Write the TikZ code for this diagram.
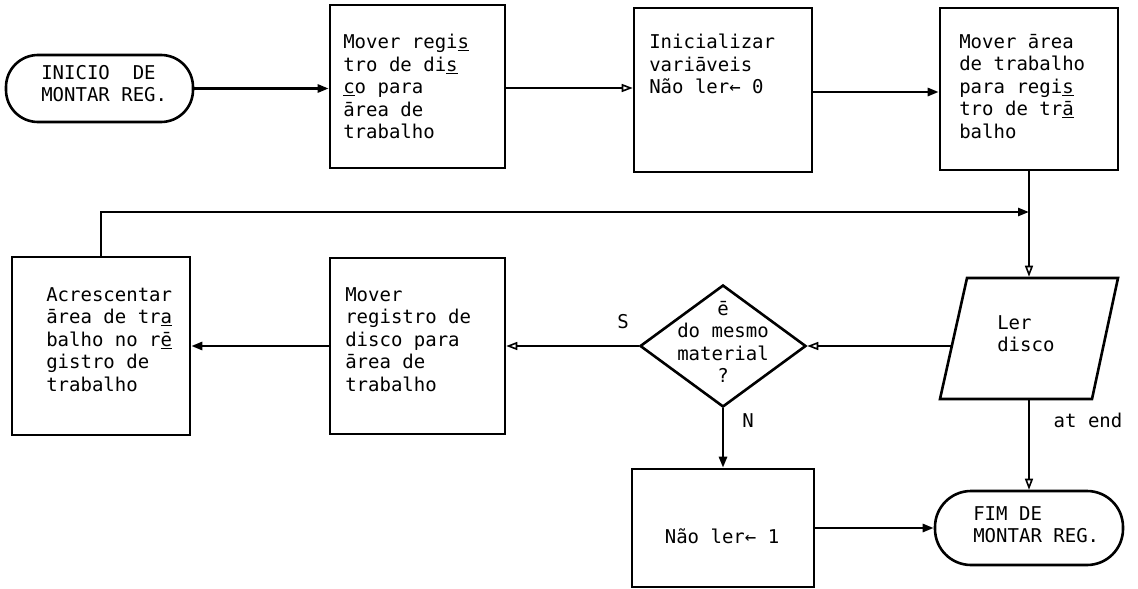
\documentclass[tikz,border=0pt]{standalone}
\usepackage{fontspec}
\newfontfamily\tw{DejaVu Sans Mono}
\usetikzlibrary{shapes.geometric,arrows.meta}
\begin{document}
\begin{tikzpicture}[x=1pt,y=-1pt,line width=2.6pt,
  box/.style={draw,rectangle,inner sep=0pt},
  term/.style={draw,rectangle,inner sep=0pt},
  txt/.style={inner sep=0pt,anchor=north west,align=left,font=\tw\fontsize{19}{22.5}\selectfont},
  ctxt/.style={inner sep=0pt,align=center,font=\tw\fontsize{19}{22.5}\selectfont},
  arrf/.style={-{Triangle[length=11pt,width=8pt]}},
  arro/.style={-{Triangle[open,length=11pt,width=8pt,line width=1.6pt]}}]
\useasboundingbox (0,0) rectangle (1138,589);
% shapes
\node[term,rounded corners=32pt,minimum width=187pt,minimum height=67pt] (start) at (99.5,88.5) {};
\node[box,minimum width=175pt,minimum height=163pt] (b1) at (417.5,86.5) {};
\node[box,minimum width=178pt,minimum height=164pt] (b2) at (723,90) {};
\node[box,minimum width=178pt,minimum height=162pt] (b3) at (1029,89) {};
\node[box,minimum width=178pt,minimum height=178pt] (acc) at (101,346) {};
\node[box,minimum width=175pt,minimum height=176pt] (mid) at (417.5,346) {};
\node[draw,diamond,inner sep=0pt,aspect=1.36,minimum width=166pt,minimum height=122pt] (dia) at (723,346) {};
\node[inner sep=0pt,minimum width=178pt,minimum height=121pt] (ler) at (1029,338.5) {};
\draw (967,278) -- (1118,278) -- (1092,399) -- (940,399) -- cycle;
\coordinate (lerL) at (952,346);
\coordinate (jn) at (1029,212);
\node[box,minimum width=182pt,minimum height=118pt] (nao) at (723,528) {};
\node[term,rounded corners=36pt,minimum width=188pt,minimum height=74pt] (fim) at (1029,528) {};
% texts
\node[txt] (tstart) at (40,64) {INICIO\ \ DE\\MONTAR REG.};
\node[txt] (t1) at (342,33) {Mover regi\underline{s}\\tro de di\underline{s}\\\underline{c}o para\\ārea de\\trabalho};
\node[txt] (t2) at (648,33) {Inicializar\\variāveis\\Não ler← 0};
\node[txt] (t3) at (958,33) {Mover ārea\\de trabalho\\para regi\underline{s}\\tro de tr\underline{ā}\\balho};
\node[txt] (tacc) at (45,286) {Acrescentar\\ārea de tr\underline{a}\\balho no r\underline{ē}\\gistro de\\trabalho};
\node[txt] (tmid) at (344,286) {Mover\\registro de\\disco para\\ārea de\\trabalho};
\node[ctxt] (tdia) at (723,342) {ē\\do mesmo\\material\\?};
\node[txt] (tler) at (996,314) {Ler\\disco};
\node[ctxt] (tnao) at (722,536) {Não ler← 1};
\node[txt] (tfim) at (972,505) {FIM DE\\MONTAR REG.};
\node[ctxt] (lS) at (623,322) {S};
\node[ctxt] (lN) at (748,421) {N};
\node[ctxt] (lend) at (1088,420) {at end};
% connectors
\draw[arrf] (start.east) -- (start.east -| b1.west);
\draw[arro] (b1.east |- 0,88) -- (b2.west |- 0,88);
\draw[arrf] (b2.east |- 0,92) -- (b3.west |- 0,92);
\draw[arrf] (acc.north) |- (jn);
\draw[arro] (b3.south) -- (ler.north);
\draw[arro] (lerL) -- (dia.east);
\draw[arro] (dia.west) -- (mid.east);
\draw[arrf] (mid.west) -- (acc.east);
\draw[arrf] (dia.south) -- (nao.north);
\draw[arrf] (nao.east) -- (fim.west);
\draw[arro] (ler.south) -- (fim.north);
\end{tikzpicture}
\end{document}
